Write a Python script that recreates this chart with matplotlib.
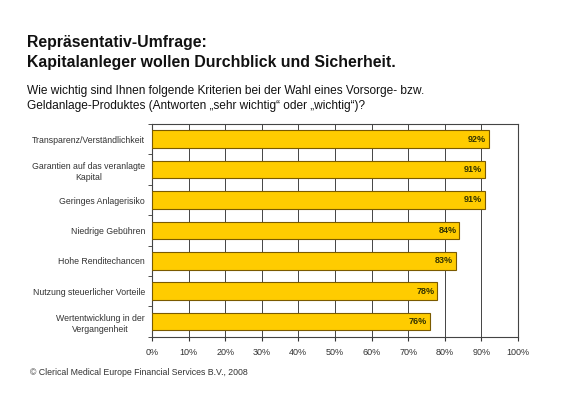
import matplotlib.pyplot as plt
import numpy as np

plt.rcParams['font.family'] = ['Liberation Sans', 'DejaVu Sans']

kriterien = ['Transparenz/Verständlichkeit',
             'Garantien auf das veranlagte\nKapital',
             'Geringes Anlagerisiko',
             'Niedrige Gebühren',
             'Hohe Renditechancen',
             'Nutzung steuerlicher Vorteile',
             'Wertentwicklung in der\nVergangenheit']
anteile = [92, 91, 91, 84, 83, 78, 76]
xticks = list(range(0, 101, 10))

fig = plt.figure(figsize=(5.78, 4.0), dpi=100)
ax = fig.add_axes([0.263, 0.158, 0.633, 0.532])

y = np.arange(len(kriterien))
ax.barh(y, anteile, height=0.58, color='#FFCC00', edgecolor='#7a5a00', linewidth=0.8, zorder=3)
for yi, v in zip(y, anteile):
    ax.text(v - 0.8, yi, f'{v}%', ha='right', va='center', fontsize=6.5, fontweight='bold', color='#333300', zorder=4)

ax.set_xlim(0, 100)
ax.set_ylim(len(kriterien) - 0.5, -0.5)
ax.set_xticks(xticks)
ax.set_xticklabels([f'{t}%' for t in xticks], fontsize=6.5, color='#333333')
ax.set_yticks(y)
ax.set_yticklabels(kriterien, fontsize=6.3, color='#333333', linespacing=1.35, multialignment='center')
ax.tick_params(axis='y', length=0, pad=5)
ax.set_yticks(np.arange(-0.5, len(kriterien), 1), minor=True)
ax.tick_params(axis='y', which='minor', length=3, color='#333333')
ax.tick_params(axis='x', length=3, color='#333333', pad=5)
ax.grid(axis='x', color='#444444', linewidth=0.7, zorder=1)
for s in ax.spines.values():
    s.set_color('#444444')
    s.set_linewidth(0.8)

fig.text(0.047, 0.883, 'Repräsentativ-Umfrage:', fontsize=11.4, fontweight='bold', color='#111111')
fig.text(0.047, 0.833, 'Kapitalanleger wollen Durchblick und Sicherheit.', fontsize=11.4, fontweight='bold', color='#111111')
fig.text(0.047, 0.765, 'Wie wichtig sind Ihnen folgende Kriterien bei der Wahl eines Vorsorge- bzw.', fontsize=8.6, color='#111111')
fig.text(0.047, 0.727, 'Geldanlage-Produktes (Antworten \u201esehr wichtig\u201c oder \u201ewichtig\u201c)?', fontsize=8.6, color='#111111')
fig.text(0.052, 0.062, '\u00a9 Clerical Medical Europe Financial Services B.V., 2008', fontsize=6.3, color='#333333')

fig.savefig('out.png', dpi=100)
